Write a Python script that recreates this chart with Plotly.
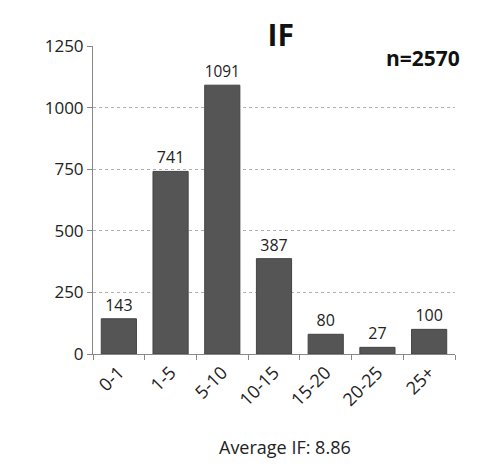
import plotly.graph_objects as go

categories = ["0-1", "1-5", "5-10", "10-15", "15-20", "20-25", "25+"]
counts = [143, 741, 1091, 387, 80, 27, 100]
y_ticks = [0, 250, 500, 750, 1000, 1250]

fig = go.Figure()
fig.add_trace(go.Bar(
    x=categories, y=counts,
    marker=dict(color="#555555", line=dict(color="#444444", width=1)),
    width=0.68,
    text=[str(c) for c in counts], textposition="outside",
    textfont=dict(family="Open Sans", size=16, color="#222222"),
    cliponaxis=False,
))

fig.update_layout(
    width=487, height=476,
    margin=dict(l=85, r=40, t=38, b=130),
    paper_bgcolor="white", plot_bgcolor="white",
    showlegend=False,
    bargap=0.32,
    font=dict(family="Open Sans", color="#222222"),
    title=dict(text="<b>IF</b>", x=0.56, xanchor="center", y=0.965, yanchor="top",
               font=dict(size=30, family="Open Sans", color="#111111")),
    annotations=[
        dict(text="<b>n=2570</b>", xref="paper", yref="paper", x=1.02, y=0.96,
             xanchor="right", yanchor="middle", showarrow=False,
             font=dict(size=21, family="Open Sans", color="#111111")),
        dict(text="Average IF: 8.86", xref="paper", yref="paper", x=0.53, y=-0.255,
             xanchor="center", yanchor="top", showarrow=False,
             font=dict(size=18, family="Open Sans", color="#222222")),
    ],
)
fig.update_yaxes(
    range=[0, 1250], tickvals=y_ticks, ticktext=[str(v) for v in y_ticks],
    showgrid=True, gridcolor="#b0b0b0", gridwidth=1, griddash="dot",
    showline=True, linecolor="#888888", linewidth=1,
    ticks="outside", ticklen=5, tickcolor="#888888",
    tickfont=dict(size=17, family="Open Sans", color="#222222"),
    zeroline=False,
)
fig.update_xaxes(
    showline=True, linecolor="#888888", linewidth=1,
    ticks="outside", ticklen=5, tickcolor="#888888",
    tickangle=-45, tickfont=dict(size=18, family="Open Sans", color="#222222"),
    tickson="boundaries",
)

fig.write_html("out.html")
